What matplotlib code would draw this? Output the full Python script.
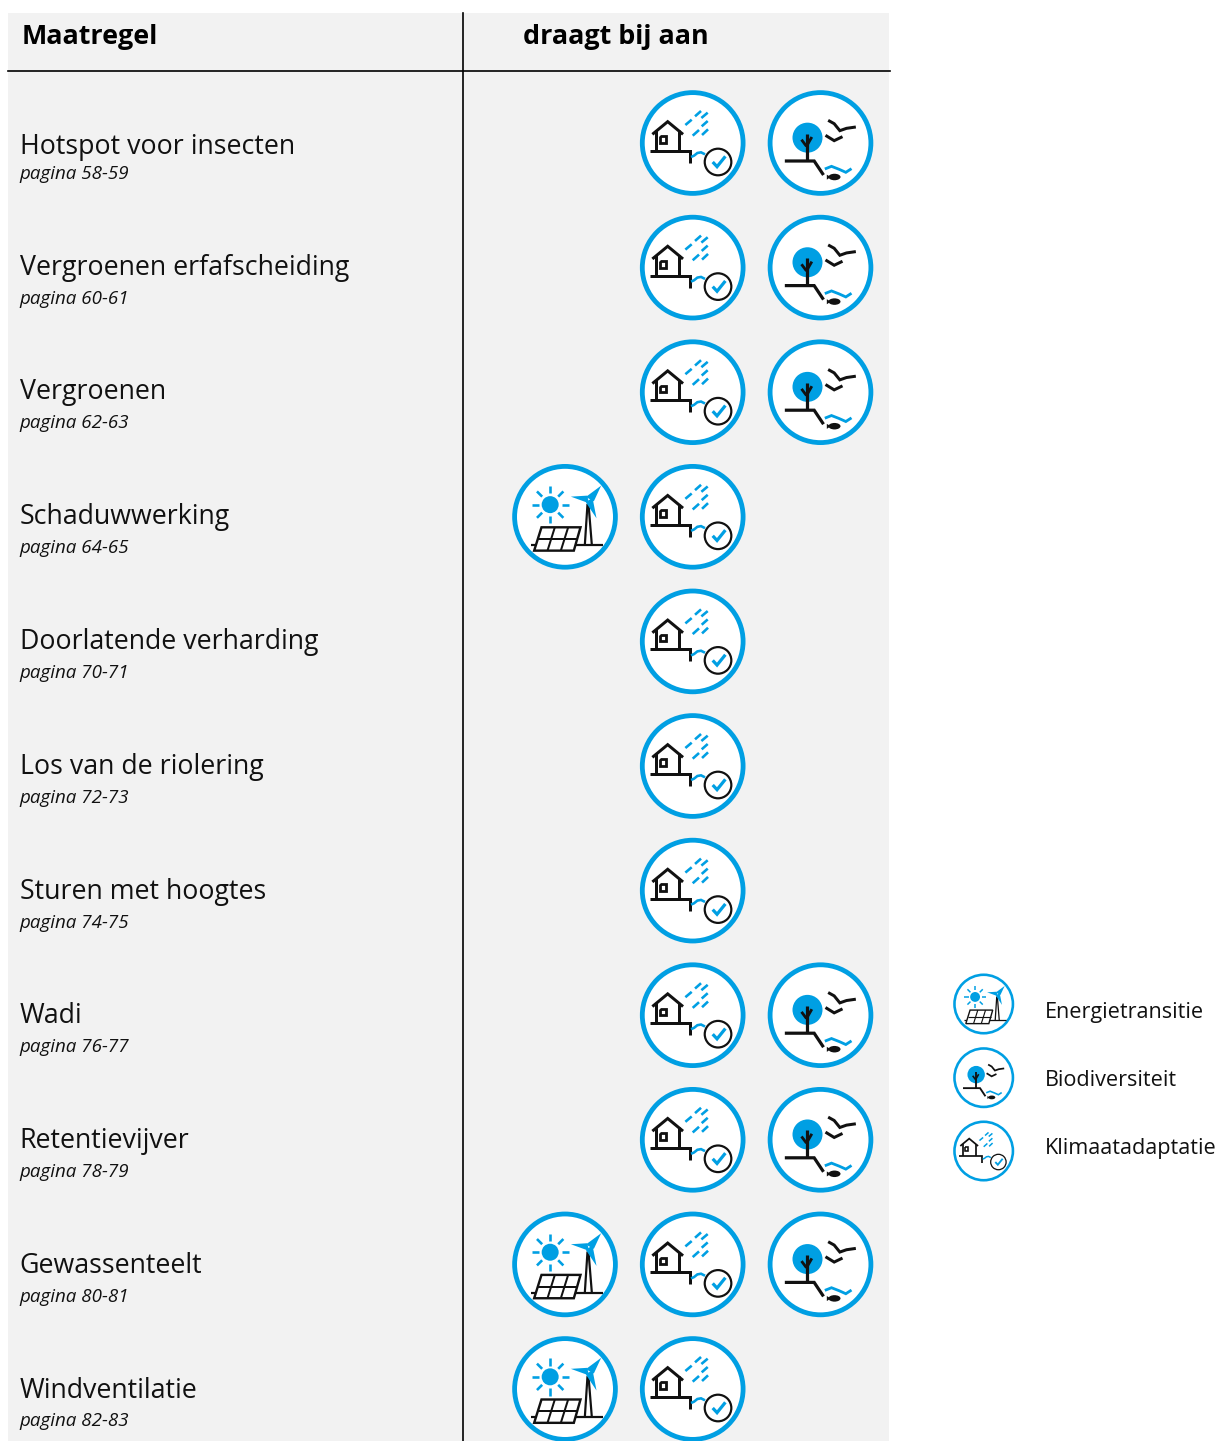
import numpy as np
import matplotlib
matplotlib.use('Agg')
import matplotlib.pyplot as plt
from matplotlib.patches import Circle, Ellipse, Polygon, Rectangle

# table content
maatregelen = ['Hotspot voor insecten', 'Vergroenen erfafscheiding', 'Vergroenen',
               'Schaduwwerking', 'Doorlatende verharding', 'Los van de riolering',
               'Sturen met hoogtes', 'Wadi', 'Retentievijver', 'Gewassenteelt',
               'Windventilatie']
paginas = ['58-59', '60-61', '62-63', '64-65', '70-71', '72-73', '74-75',
           '76-77', '78-79', '80-81', '82-83']
energie = [0, 0, 0, 1, 0, 0, 0, 0, 0, 1, 1]
klimaat = [1, 1, 1, 1, 1, 1, 1, 1, 1, 1, 1]
biodiv = [1, 1, 1, 0, 0, 0, 0, 1, 1, 1, 0]
legenda = ['Energietransitie', 'Biodiversiteit', 'Klimaatadaptatie']

BLUE = '#009fe3'
INK = '#111111'
plt.rcParams['font.family'] = ['Open Sans', 'DejaVu Sans']

fig = plt.figure(figsize=(12.17, 14.41), dpi=100)
ax = fig.add_axes([0, 0, 1, 1])
ax.set_xlim(0, 1217)
ax.set_ylim(1441, 0)
ax.axis('off')


# icon helpers: shapes are given in the 3x zoom pixels of one icon
def line(cx, cy, s, org, pts, color=INK, lw=3.0):
    p = (np.array(pts, dtype=float) - org) / 3 * s
    ax.plot(cx + p[:, 0], cy + p[:, 1], color=color, lw=lw * s * 0.72,
            solid_capstyle='butt', solid_joinstyle='miter', zorder=4)


def poly(cx, cy, s, org, pts, color=BLUE):
    p = (np.array(pts, dtype=float) - org) / 3 * s
    ax.add_patch(Polygon(np.column_stack([cx + p[:, 0], cy + p[:, 1]]), closed=True,
                         fc=color, ec='none', zorder=4))


def ring(cx, cy, s, lw):
    ax.add_patch(Circle((cx, cy), 50.4 * s, fc='white', ec=BLUE, lw=lw * 0.72, zorder=3))


def icon_klimaat(cx, cy, s=1.0, lw=4.8):
    org = np.array([578, 188])
    ring(cx, cy, s, lw)
    line(cx, cy, s, org, [(457, 162), (503, 124), (549, 162)])
    line(cx, cy, s, org, [(469, 150), (469, 212)])
    line(cx, cy, s, org, [(538, 150), (538, 212)])
    line(cx, cy, s, org, [(450, 212), (570, 212), (570, 248)])
    line(cx, cy, s, org, [(479, 168), (499, 168), (499, 188), (479, 188), (479, 168)], lw=2.8)
    for a, b in [((556, 134), (575, 118)), ((585, 108), (603, 92)), ((604, 113), (623, 97)),
                 ((578, 166), (597, 149)), ((605, 138), (623, 122)), ((606, 164), (624, 147))]:
        line(cx, cy, s, org, [a, b], color=BLUE, lw=2.6)
    line(cx, cy, s, org, [(573, 230), (582, 226), (592, 218), (603, 216), (615, 222)],
         color=BLUE, lw=2.6)
    z = (np.array([654, 245]) - org) / 3 * s
    ax.add_patch(Circle((cx + z[0], cy + z[1]), 13.3 * s, fc='white', ec=INK,
                        lw=2.2 * s * 0.72, zorder=4))
    line(cx, cy, s, org, [(638, 245), (651, 259), (676, 228)], color=BLUE, lw=3.2)


def icon_bio(cx, cy, s=1.0, lw=4.8):
    org = np.array([962, 188])
    ring(cx, cy, s, lw)
    z = (np.array([923, 172]) - org) / 3 * s
    ax.add_patch(Circle((cx + z[0], cy + z[1]), 15 * s, fc=BLUE, ec='none', zorder=4))
    line(cx, cy, s, org, [(920, 160), (920, 242)], lw=3.2)
    line(cx, cy, s, org, [(905, 178), (920, 198)], lw=2.8)
    line(cx, cy, s, org, [(936, 170), (920, 198)], lw=2.8)
    line(cx, cy, s, org, [(855, 242), (943, 242), (971, 284)], lw=3.2)
    line(cx, cy, s, org, [(985, 120), (1003, 130), (1020, 151), (1040, 144), (1068, 140)], lw=3.0)
    line(cx, cy, s, org, [(977, 165), (1003, 181), (1028, 169)], lw=3.0)
    line(cx, cy, s, org, [(975, 266), (995, 258), (1018, 267), (1038, 276), (1055, 265)],
         color=BLUE, lw=2.8)
    z = (np.array([1004, 290]) - org) / 3 * s
    ax.add_patch(Ellipse((cx + z[0], cy + z[1]), 12 * s, 6.5 * s, fc=INK, ec='none', zorder=4))
    poly(cx, cy, s, org, [(981, 283), (981, 298), (993, 290)], color=INK)


def icon_energie(cx, cy, s=1.0, lw=4.8):
    org = np.array([195.5, 183.5])
    ring(cx, cy, s, lw)
    z = (np.array([151, 147]) - org) / 3 * s
    ax.add_patch(Circle((cx + z[0], cy + z[1]), 8.5 * s, fc=BLUE, ec='none', zorder=4))
    for hoek in np.radians(np.arange(0, 360, 45)):
        u = np.array([np.cos(hoek), np.sin(hoek)])
        line(cx, cy, s, org, [(151, 147) + 34 * u, (151, 147) + 56 * u], color=BLUE, lw=2.6)
    line(cx, cy, s, org, [(92, 268), (310, 268)], lw=2.2)
    ax_panel = [(125, 215), (242, 215), (222, 285), (103, 285), (125, 215)]
    p = (np.array(ax_panel, dtype=float) - org) / 3 * s
    ax.add_patch(Polygon(np.column_stack([cx + p[:, 0], cy + p[:, 1]]), closed=True,
                         fc='white', ec=INK, lw=2.4 * s * 0.72, zorder=4))
    line(cx, cy, s, org, [(113, 250), (232, 250)], lw=2.0)
    line(cx, cy, s, org, [(165, 215), (143, 285)], lw=2.0)
    line(cx, cy, s, org, [(205, 215), (183, 285)], lw=2.0)
    line(cx, cy, s, org, [(263, 145), (255, 268)], lw=2.2)
    line(cx, cy, s, org, [(266, 145), (276, 268)], lw=2.2)
    poly(cx, cy, s, org, [(213, 123), (262, 120), (268, 143)])
    poly(cx, cy, s, org, [(304, 90), (282, 137), (258, 124)])
    poly(cx, cy, s, org, [(290, 188), (258, 140), (278, 126)])


# background table
ax.add_patch(Rectangle((8, 13), 881, 1428, fc='#f2f2f2', ec='none', zorder=1))
ax.plot([8, 890], [70.5, 70.5], color='black', lw=1.2, zorder=2)
ax.plot([463, 463], [13, 1441], color='black', lw=1.2, zorder=2)
ax.text(21.5, 44, 'Maatregel', fontsize=19.4, fontweight='bold', color='black', va='baseline')
ax.text(523, 44, 'draagt bij aan', fontsize=19.4, fontweight='bold', color='black', va='baseline')

# rows
for i in range(len(maatregelen)):
    cy = 143 + i * 124.6
    basis = 179 + i * 124.75
    # first row sits a bit lower in the source
    titel_y = basis - 25 if i == 0 else basis - 29
    ax.text(19.5, titel_y, maatregelen[i], fontsize=19.25, color=INK, va='baseline', zorder=5)
    ax.text(19, basis, 'pagina ' + paginas[i], fontsize=13.5, style='italic', color=INK,
            va='baseline', zorder=5)
    if energie[i]:
        icon_energie(565, cy)
    if klimaat[i]:
        icon_klimaat(692.7, cy)
    if biodiv[i]:
        icon_bio(820.5, cy)

# legend
legenda_y = [1004, 1077.7, 1151]
tekst_y = [1018, 1086, 1154]
icon_energie(983.7, legenda_y[0], s=0.58, lw=2.6)
icon_bio(983.7, legenda_y[1], s=0.58, lw=2.6)
icon_klimaat(983.7, legenda_y[2], s=0.58, lw=2.6)
for naam, y in zip(legenda, tekst_y):
    ax.text(1045, y, naam, fontsize=15.55, color=INK, va='baseline', zorder=5)

fig.savefig('out.png', dpi=100)
